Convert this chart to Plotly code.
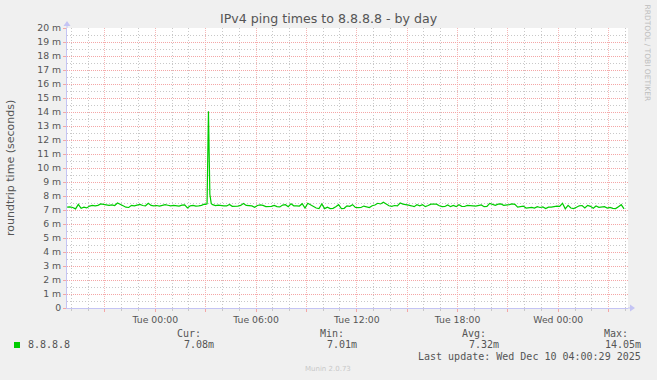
import pandas as pd
import plotly.graph_objects as go

# ---------------- data ----------------
# before the spike: 10-minute samples from Mon 18:45
start_a = "2025-12-08 18:45"
ping_ms_a = [
    7.20, 7.22, 7.18, 7.08, 7.40, 7.12, 7.20, 7.15, 7.28, 7.33,
    7.30, 7.33, 7.43, 7.40, 7.35, 7.33, 7.36, 7.32, 7.50, 7.42,
    7.30, 7.20, 7.18, 7.33, 7.30, 7.35, 7.40, 7.32, 7.30, 7.48,
    7.33, 7.30, 7.32, 7.28, 7.33, 7.38, 7.34, 7.30, 7.33, 7.30,
    7.28, 7.35, 7.36, 7.15, 7.30, 7.33, 7.28, 7.30, 7.33, 7.42,
]
# around the spike: 5-minute samples from Tue 03:00
start_s = "2025-12-09 03:00"
ping_ms_s = [7.40, 7.44, 14.05, 8.12, 7.45]
# after the spike: 10-minute samples from Tue 03:25
start_b = "2025-12-09 03:25"
ping_ms_b = [
    7.38, 7.32, 7.35, 7.30, 7.29, 7.29, 7.40, 7.26,
    7.25, 7.28, 7.33, 7.46, 7.33, 7.29, 7.29, 7.19, 7.32, 7.36,
    7.33, 7.24, 7.24, 7.26, 7.33, 7.24, 7.22, 7.35, 7.38, 7.24,
    7.44, 7.30, 7.29, 7.28, 7.45, 7.14, 7.48, 7.38, 7.29, 7.14,
    7.10, 7.43, 7.10, 7.20, 7.10, 7.12, 7.24, 7.38, 7.10, 7.12,
    7.30, 7.26, 7.38, 7.18, 7.17, 7.18, 7.28, 7.20, 7.17, 7.30,
    7.36, 7.48, 7.43, 7.55, 7.43, 7.30, 7.26, 7.32, 7.30, 7.50,
    7.42, 7.40, 7.35, 7.30, 7.24, 7.38, 7.30, 7.38, 7.24, 7.32,
    7.42, 7.43, 7.42, 7.30, 7.24, 7.25, 7.36, 7.24, 7.32, 7.24,
    7.37, 7.26, 7.25, 7.33, 7.29, 7.30, 7.28, 7.30, 7.36, 7.24,
    7.25, 7.47, 7.38, 7.33, 7.42, 7.43, 7.33, 7.33, 7.38, 7.43,
    7.40, 7.20, 7.24, 7.28, 7.14, 7.19, 7.19, 7.14, 7.24, 7.18,
    7.22, 7.10, 7.20, 7.20, 7.24, 7.28, 7.26, 7.48, 7.08, 7.33,
    7.14, 7.10, 7.20, 7.30, 7.32, 7.14, 7.33, 7.26, 7.12, 7.29,
    7.19, 7.20, 7.24, 7.14, 7.19, 7.12, 7.10, 7.24, 7.38, 7.08,
]
x_range = ["2025-12-08 18:44:30", "2025-12-10 04:09:10"]
x_tickvals = ["2025-12-08 21:00", "2025-12-09 00:00", "2025-12-09 03:00",
              "2025-12-09 06:00", "2025-12-09 09:00", "2025-12-09 12:00",
              "2025-12-09 15:00", "2025-12-09 18:00", "2025-12-09 21:00",
              "2025-12-10 00:00", "2025-12-10 03:00"]
x_ticktext = ["", "Tue 00:00", "", "Tue 06:00", "", "Tue 12:00", "",
              "Tue 18:00", "", "Wed 00:00", ""]
y_tickvals = list(range(0, 21))
y_ticktext = ["0"] + [f"{v} m" for v in range(1, 21)]

series_name = "8.8.8.8"
stat_headers = ["Cur:", "Min:", "Avg:", "Max:"]
stat_values = ["7.08m", "7.01m", "7.32m", "14.05m"]
title_text = "IPv4 ping times to 8.8.8.8 - by day"
y_title = "roundtrip time (seconds)"
last_update = "Last update: Wed Dec 10 04:00:29 2025"
footer = "Munin 2.0.73"
side_text = "RRDTOOL / TOBI OETIKER"

times = (list(pd.date_range(start_a, periods=len(ping_ms_a), freq="10min"))
         + list(pd.date_range(start_s, periods=len(ping_ms_s), freq="5min"))
         + list(pd.date_range(start_b, periods=len(ping_ms_b), freq="10min")))
values = ping_ms_a + ping_ms_s + ping_ms_b

# minor grid positions: every hour / every half unit, skipping the major ones
hours = pd.date_range("2025-12-08 19:00", "2025-12-10 04:00", freq="1h")
x_minor = [h for h in hours if h.hour % 3 != 0]
y_minor = [v + 0.5 for v in range(0, 20)]

# ---------------- styling ----------------
W, H = 657, 380
L, R, T, B = 67, 628, 28, 308
BG = "#f0f0f0"
TXT = "#555555"
RED = "#f4a6a6"
RED_V = "#f6b6b6"
GRAY = "#c8c8c8"
AXIS = "#c4c4f4"
GREEN = "#00cc00"
FONT = "DejaVu Sans"
MONO = "DejaVu Sans Mono"


def px(p):
    return (p - L) / (R - L)


def py(p):
    return (B - p) / (B - T)


fig = go.Figure(go.Scatter(
    x=times, y=values, mode="lines",
    line=dict(color=GREEN, width=1.2), hoverinfo="skip",
))

fig.update_layout(
    width=W, height=H,
    margin=dict(l=L, r=W - R, t=T, b=H - B, pad=0),
    paper_bgcolor=BG, plot_bgcolor="white",
    showlegend=False,
    font=dict(family=FONT, size=9.3, color=TXT),
)

fig.update_xaxes(
    type="date", range=x_range,
    tickmode="array", tickvals=x_tickvals, ticktext=x_ticktext,
    showgrid=True, gridcolor=RED_V, griddash="1px,1px", gridwidth=1,
    ticks="outside", ticklen=3, tickcolor=RED, tickwidth=1,
    showline=True, linecolor=AXIS, linewidth=1,
    zeroline=False, tickfont=dict(family=FONT, size=9.3, color=TXT),
    minor=dict(tickmode="array", tickvals=x_minor, showgrid=True,
               gridcolor=GRAY, griddash="1px,2px", gridwidth=1,
               ticks="outside", ticklen=2, tickcolor=GRAY),
)

fig.update_yaxes(
    range=[0, 20],
    tickmode="array", tickvals=y_tickvals, ticktext=y_ticktext,
    showgrid=True, gridcolor=RED, griddash="1px,1px", gridwidth=1,
    ticks="outside", ticklen=3, tickcolor=RED, tickwidth=1,
    showline=True, linecolor=AXIS, linewidth=1,
    zeroline=False, tickfont=dict(family=FONT, size=9.3, color=TXT),
    minor=dict(tickmode="array", tickvals=y_minor, showgrid=True,
               gridcolor=GRAY, griddash="1px,2px", gridwidth=1),
)

shapes = [
    # axis extensions + arrows
    dict(type="line", xref="paper", yref="paper", x0=px(R), x1=px(631),
         y0=0, y1=0, line=dict(color=AXIS, width=1)),
    dict(type="path", xref="paper", yref="paper",
         path=f"M {px(630)},{py(304.5)} L {px(635)},{py(308)} L {px(630)},{py(311.5)} Z",
         fillcolor=AXIS, line=dict(width=0)),
    dict(type="line", xref="paper", yref="paper", x0=0, x1=0,
         y0=1, y1=py(25), line=dict(color=AXIS, width=1)),
    dict(type="path", xref="paper", yref="paper",
         path=f"M {px(63.5)},{py(26)} L {px(67)},{py(21)} L {px(70.5)},{py(26)} Z",
         fillcolor=AXIS, line=dict(width=0)),
    # legend swatch
    dict(type="rect", xref="paper", yref="paper",
         x0=px(14), x1=px(20), y0=py(348), y1=py(342),
         fillcolor=GREEN, line=dict(width=0)),
]

annotations = [
    dict(text=title_text, x=px(328.5), y=py(19), xref="paper", yref="paper",
         showarrow=False, xanchor="center", yanchor="middle",
         font=dict(family=FONT, size=12.6, color=TXT)),
    dict(text=y_title, x=px(10), y=py(168), xref="paper", yref="paper",
         showarrow=False, xanchor="center", yanchor="middle", textangle=-90,
         font=dict(family=FONT, size=11, color=TXT)),
    dict(text=side_text, x=px(647.5), y=py(53), xref="paper", yref="paper",
         showarrow=False, xanchor="center", yanchor="middle", textangle=90,
         font=dict(family=FONT, size=7.5, color="#bdbdbd")),
    dict(text=series_name, x=px(26), y=py(344.5), xref="paper", yref="paper",
         showarrow=False, xanchor="left", yanchor="middle",
         font=dict(family=MONO, size=10, color=TXT)),
    dict(text=last_update, x=px(643.3), y=py(356), xref="paper", yref="paper",
         showarrow=False, xanchor="right", yanchor="middle",
         font=dict(family=MONO, size=10, color=TXT)),
    dict(text=footer, x=px(328), y=py(369), xref="paper", yref="paper",
         showarrow=False, xanchor="center", yanchor="middle",
         font=dict(family=FONT, size=7, color="#c8c8c8")),
]

header_right = [202.7, 346.0, 488.3, 630.0]
value_right = [216.0, 359.3, 501.0, 643.3]
for hdr, val, hx, vx in zip(stat_headers, stat_values, header_right, value_right):
    annotations.append(dict(text=hdr, x=px(hx), y=py(333), xref="paper", yref="paper",
                            showarrow=False, xanchor="right", yanchor="middle",
                            font=dict(family=MONO, size=10, color=TXT)))
    annotations.append(dict(text=val, x=px(vx), y=py(344.5), xref="paper", yref="paper",
                            showarrow=False, xanchor="right", yanchor="middle",
                            font=dict(family=MONO, size=10, color=TXT)))

fig.update_layout(shapes=shapes, annotations=annotations)

fig.write_html("out.html")
